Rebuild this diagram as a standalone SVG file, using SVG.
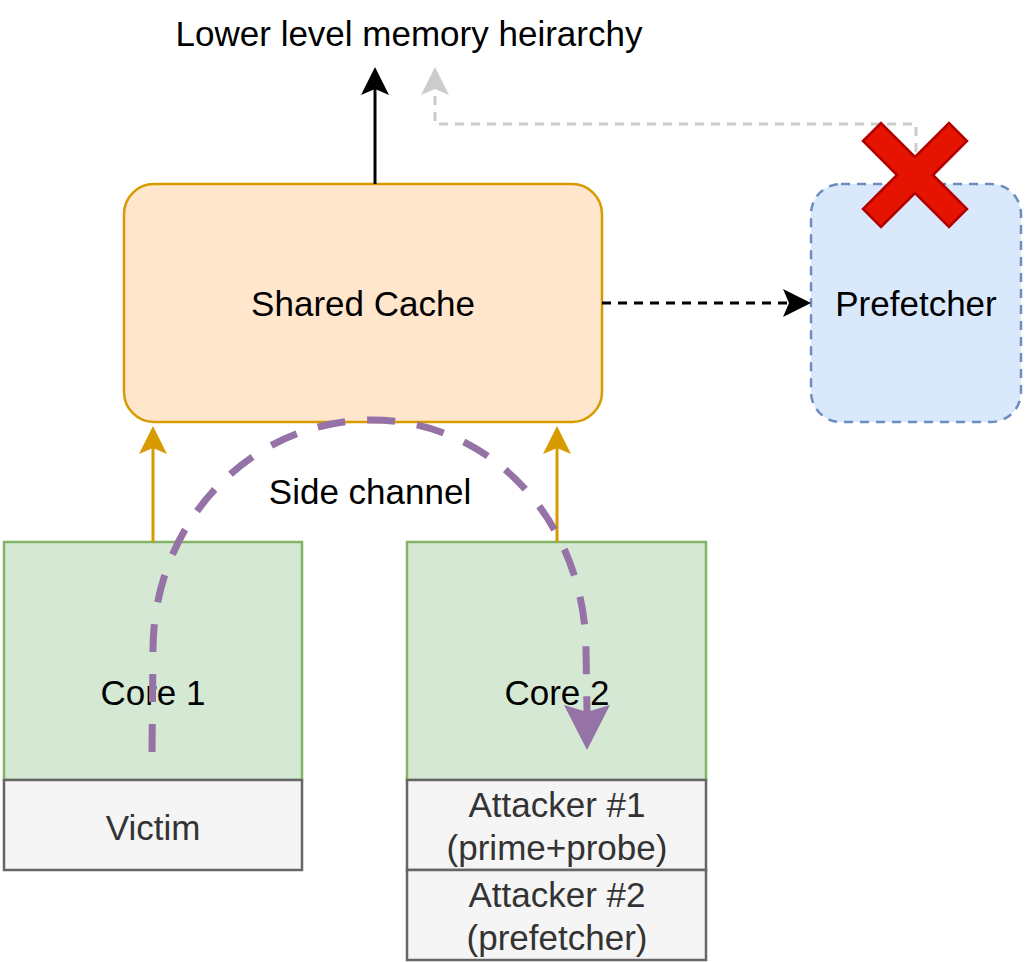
<svg xmlns="http://www.w3.org/2000/svg" width="1025" height="962" viewBox="0 0 1025 962">
<style>
text{font-family:"Liberation Sans",Arial,Helvetica,sans-serif;font-size:35px;text-anchor:middle;fill:#000}
.g text{fill:#333333}
.core{fill:#d5e8d4;stroke:#82b366;stroke-width:2.5}
.gray{fill:#f5f5f5;stroke:#666666;stroke-width:2.5}
</style>
<defs>
<marker id="ab" markerUnits="userSpaceOnUse" markerWidth="30" markerHeight="30" refX="6" refY="14" orient="auto" overflow="visible"><path d="M28 14 L0 0 L6 14 L0 28 Z" fill="#000"/></marker>
<marker id="ag" markerUnits="userSpaceOnUse" markerWidth="30" markerHeight="30" refX="6" refY="14" orient="auto" overflow="visible"><path d="M28 14 L0 0 L6 14 L0 28 Z" fill="#cccccc"/></marker>
<marker id="ao" markerUnits="userSpaceOnUse" markerWidth="30" markerHeight="30" refX="6" refY="14" orient="auto" overflow="visible"><path d="M28 14 L0 0 L6 14 L0 28 Z" fill="#d79b00"/></marker>
</defs>
<text x="409" y="46">Lower level memory heirarchy</text>
<g id="shared-cache"><rect x="124" y="184" width="478" height="238" rx="30" fill="#ffe6cc" stroke="#d79b00" stroke-width="2.5"/><text x="363" y="316">Shared Cache</text></g>
<g id="prefetcher"><rect x="811" y="184" width="210" height="238" rx="30" fill="#dae8fc" stroke="#6c8ebf" stroke-width="2.5" stroke-dasharray="9 7"/><text x="916" y="316">Prefetcher</text></g>
<g id="core1"><rect class="core" x="4" y="542" width="298" height="238"/><text x="153" y="705">Core 1</text></g>
<g id="core2"><rect class="core" x="407" y="542" width="299" height="238"/><text x="557" y="705">Core 2</text></g>
<g id="victim" class="g"><rect class="gray" x="4" y="780" width="298" height="90"/><text x="153" y="840">Victim</text></g>
<g id="attacker1" class="g"><rect class="gray" x="407" y="780" width="299" height="90"/><text x="557" y="817">Attacker #1</text><text x="557" y="860">(prime+probe)</text></g>
<g id="attacker2" class="g"><rect class="gray" x="407" y="870" width="299" height="90"/><text x="557" y="907">Attacker #2</text><text x="557" y="950">(prefetcher)</text></g>
<g id="connectors" fill="none">
<path d="M375 184 L375 89" stroke="#000" stroke-width="3" marker-end="url(#ab)"/>
<path d="M916 184 L916 124 L435 124 L435 89" stroke="#cccccc" stroke-width="3" stroke-dasharray="9 7" marker-end="url(#ag)"/>
<path d="M602 303 L789 303" stroke="#000" stroke-width="3" stroke-dasharray="9 7" marker-end="url(#ab)"/>
<path d="M153 542 L153 448" stroke="#d79b00" stroke-width="3" marker-end="url(#ao)"/>
<path d="M557 542 L557 448" stroke="#d79b00" stroke-width="3" marker-end="url(#ao)"/>
<path d="M152 752 L153 650 C153 523 250 420 372 420 C492 420 585 523 586 650 L587 712" stroke="#9673a6" stroke-width="7" stroke-dasharray="28 22"/>
<path d="M587 750 L564 705 L587 712 L610 705 Z" fill="#9673a6"/>
</g>
<text x="370" y="504">Side channel</text>
<g id="cross"><polygon points="863,141 881,123 915,157 949,123 967,141 933,175 967,209 949,227 915,193 881,227 863,209 897,175" fill="#e51400" stroke="#b20000" stroke-width="2.5"/></g>
</svg>
